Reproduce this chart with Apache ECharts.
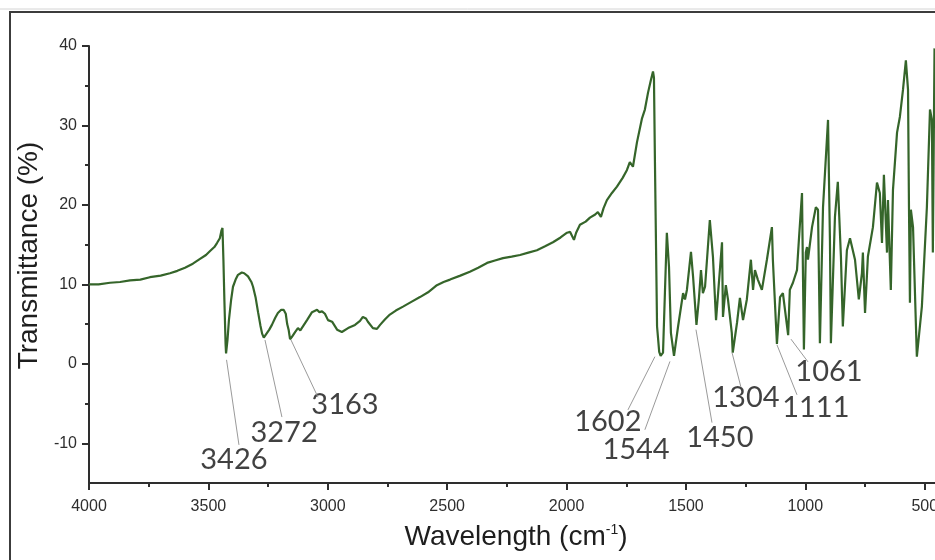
<!DOCTYPE html>
<html>
<head>
<meta charset="utf-8">
<title>FTIR spectrum</title>
<script src="https://cdn.jsdelivr.net/npm/echarts@6/dist/echarts.min.js"></script>
<style>
  html, body { margin: 0; padding: 0; background: #fff; }
  #main { width: 935px; height: 560px; }
</style>
</head>
<body>
<div id="main"></div>
<script>
// spectrum (wavenumber in cm-1, transmittance in %)
var wavenumber = [
    4000, 3960, 3912, 3870, 3828, 3785, 3745, 3700, 3661, 3630, 3598, 3565, 3535, 3510, 3493, 3475, 3464, 3452, 3445, 3441,
    3437, 3433, 3428, 3426, 3420, 3414, 3405, 3397, 3386, 3376, 3360, 3350, 3334, 3320, 3313, 3302, 3292, 3282, 3275, 3268,
    3260, 3245, 3234, 3220, 3209, 3195, 3185, 3176, 3170, 3164, 3158, 3150, 3137, 3125, 3115, 3108, 3087, 3066, 3045, 3035,
    3024, 3012, 2999, 2982, 2961, 2941, 2915, 2886, 2865, 2853, 2840, 2832, 2811, 2794, 2781, 2760, 2740, 2715, 2685, 2650,
    2614, 2580, 2543, 2515, 2488, 2445, 2405, 2370, 2333, 2300, 2266, 2230, 2195, 2160, 2124, 2090, 2057, 2025, 1998, 1985,
    1977, 1969, 1960, 1944, 1920, 1902, 1880, 1869, 1856, 1845, 1831, 1810, 1789, 1765, 1747, 1735, 1722, 1705, 1684, 1672,
    1659, 1647, 1638, 1634, 1630, 1621, 1612, 1606, 1596, 1588, 1580, 1571, 1563, 1550, 1545, 1533, 1512, 1504, 1496, 1479,
    1470, 1456, 1446, 1437, 1429, 1420, 1400, 1387, 1374, 1366, 1349, 1345, 1333, 1324, 1308, 1304, 1286, 1274, 1261, 1245,
    1228, 1219, 1211, 1199, 1182, 1161, 1140, 1136, 1119, 1106, 1094, 1072, 1065, 1052, 1035, 1027, 1014, 1010, 1006, 998,
    993, 989, 972, 956, 947, 939, 926, 905, 897, 893, 876, 864, 851, 843, 826, 813, 792, 776, 763, 759,
    750, 738, 717, 700, 688, 679, 671, 658, 654, 642, 633, 616, 604, 591, 579, 570, 566, 562, 558, 549,
    533, 512, 491, 478, 470, 466, 459
];
var transmittance = [
    10.0, 10.0, 10.2, 10.3, 10.5, 10.6, 10.9, 11.1, 11.4, 11.7, 12.1, 12.6, 13.2, 13.7, 14.2, 14.7, 15.2, 15.8, 16.8, 17.1,
    13.0, 8.0, 2.5, 1.3, 3.0, 5.5, 8.0, 9.7, 10.6, 11.2, 11.5, 11.4, 11.0, 10.3, 9.7, 8.3, 6.5, 4.8, 3.8, 3.3,
    3.5, 4.3, 4.9, 5.8, 6.4, 6.8, 6.8, 6.3, 5.0, 4.3, 3.1, 3.4, 4.0, 4.5, 4.2, 4.3, 5.5, 6.5, 6.8, 6.5,
    6.6, 6.3, 5.5, 5.3, 4.3, 4.0, 4.5, 4.9, 5.4, 5.9, 5.7, 5.3, 4.5, 4.4, 4.9, 5.6, 6.2, 6.7, 7.2, 7.8,
    8.4, 9.0, 9.9, 10.3, 10.6, 11.1, 11.6, 12.1, 12.7, 13.0, 13.3, 13.5, 13.7, 14.0, 14.3, 14.8, 15.3, 15.9, 16.5, 16.6,
    16.6, 15.6, 16.5, 17.5, 17.9, 18.4, 18.8, 19.1, 18.5, 19.6, 20.6, 21.5, 22.3, 23.4, 24.4, 25.4, 24.8, 27.9, 30.9, 32.0,
    34.1, 35.7, 36.8, 36.0, 25.7, 4.7, 1.5, 1.0, 1.4, 9.0, 16.5, 12.2, 3.9, 1.0, 1.2, 4.7, 8.9, 8.1, 9.3, 14.1,
    10.9, 4.9, 8.1, 11.8, 8.9, 9.7, 18.1, 13.5, 5.5, 5.3, 15.3, 5.9, 9.9, 8.1, 3.9, 1.4, 5.2, 8.3, 5.5, 8.1,
    13.1, 9.3, 11.8, 10.6, 9.3, 13.1, 17.2, 13.1, 2.5, 8.4, 8.9, 3.6, 9.3, 10.2, 11.8, 15.6, 21.5, 11.4, 1.8, 14.0,
    14.7, 13.1, 17.2, 19.7, 19.4, 2.6, 19.7, 30.7, 15.6, 2.6, 18.5, 22.9, 13.5, 4.7, 14.3, 15.8, 13.1, 8.1, 11.4, 14.0,
    6.4, 13.5, 17.2, 22.8, 21.5, 15.2, 23.8, 14.0, 20.6, 9.3, 21.9, 29.1, 31.1, 34.5, 38.2, 34.5, 19.7, 7.7, 19.4, 17.2,
    0.9, 7.2, 19.7, 32.0, 30.7, 14.0, 39.7
];

// peak annotations
var peakLabels = ['3426', '3272', '3163', '1602', '1544', '1450', '1304', '1111', '1061'];
var labelWn = [3393, 3183, 2928, 1827, 1709, 1358, 1249, 956, 901];
var labelT = [-12.1, -8.6, -5.2, -7.3, -10.8, -9.3, -4.3, -5.5, -1.0];
var leaderFromWn = [3424, 3263, 3154, 1630, 1567, 1458, 1307, 1119, 1060];
var leaderFromT = [0.5, 3.0, 3.0, 0.9, 0.3, 4.3, 1.4, 2.4, 3.1];
var leaderToWn = [3372, 3192, 3041, 1743, 1672, 1391, 1270, 1035, 989];
var leaderToT = [-10.2, -6.7, -4.2, -5.8, -8.3, -7.4, -2.9, -3.9, 0.25];

// ticks
var xMajorTicks = [4000, 3500, 3000, 2500, 2000, 1500, 1000, 500];
var xMinorTicks = [3750, 3250, 2750, 2250, 1750, 1250, 750];
var yMajorTicks = [-10, 0, 10, 20, 30, 40];
var yMinorTicks = [-5, 5, 15, 25, 35];

var xMin = 457, xMax = 4000, yMin = -15, yMax = 40;
var axisColor = '#2e2e2e';
var sansFont = 'Liberation Sans';

var chart = echarts.init(document.getElementById('main'));

var lineData = wavenumber.map(function(w, i) {
    return [w, transmittance[i]];
});
var labelData = peakLabels.map(function(txt, i) {
    return [labelWn[i], labelT[i], txt];
});
var leaderData = peakLabels.map(function(txt, i) {
    return [
        { coord: [leaderFromWn[i], leaderFromT[i]] },
        { coord: [leaderToWn[i], leaderToT[i]] }
    ];
});
var plainNumber = function(v) { return String(v); };

var option = {
    animation: false,
    backgroundColor: '#fff',
    grid: { left: 89, top: 46, right: 0, bottom: 77, containLabel: false, outerBoundsMode: 'none' },
    graphic: [{
        type: 'line',
        silent: true,
        shape: { x1: 0, y1: 9, x2: 935, y2: 9 },
        style: { stroke: '#d4d4d4', lineWidth: 1 }
    }, {
        type: 'rect',
        silent: true,
        shape: { x: 10, y: 12, width: 1000, height: 700 },
        style: { fill: 'none', stroke: '#3c3c3c', lineWidth: 2 }
    }],
    xAxis: [{
        type: 'value',
        position: 'bottom',
        min: xMin,
        max: xMax,
        inverse: true,
        name: 'Wavelength (cm{sup|-1})',
        nameLocation: 'middle',
        nameGap: 40,
        nameTextStyle: {
            fontFamily: sansFont,
            fontSize: 28,
            color: '#1e1e1e',
            padding: [0, 0, 0, 8],
            rich: {
                sup: { fontFamily: sansFont, fontSize: 14, color: '#1e1e1e', verticalAlign: 'top' }
            }
        },
        axisLine: { show: true, onZero: false, lineStyle: { color: axisColor, width: 2 } },
        axisTick: { show: true, length: 7, customValues: xMajorTicks, lineStyle: { color: axisColor, width: 2 } },
        axisLabel: { customValues: xMajorTicks, formatter: plainNumber, margin: 16, fontFamily: sansFont, fontSize: 16, color: axisColor },
        splitLine: { show: false }
    }, {
        type: 'value',
        position: 'bottom',
        min: xMin,
        max: xMax,
        inverse: true,
        axisLine: { show: false, onZero: false },
        axisTick: { show: true, length: 4, customValues: xMinorTicks, lineStyle: { color: axisColor, width: 2 } },
        axisLabel: { show: false },
        splitLine: { show: false }
    }],
    yAxis: [{
        type: 'value',
        position: 'left',
        min: yMin,
        max: yMax,
        name: 'Transmittance (%)',
        nameLocation: 'middle',
        nameRotate: 90,
        nameGap: 40,
        nameTextStyle: { fontFamily: sansFont, fontSize: 28, color: '#1e1e1e', padding: [0, 0, 0, 18] },
        axisLine: { show: true, onZero: false, lineStyle: { color: axisColor, width: 2 } },
        axisTick: { show: true, length: 7, customValues: yMajorTicks, lineStyle: { color: axisColor, width: 2 } },
        axisLabel: { customValues: yMajorTicks, formatter: plainNumber, margin: 12, fontFamily: sansFont, fontSize: 16, color: axisColor },
        splitLine: { show: false }
    }, {
        type: 'value',
        position: 'left',
        min: yMin,
        max: yMax,
        axisLine: { show: false, onZero: false },
        axisTick: { show: true, length: 4, customValues: yMinorTicks, lineStyle: { color: axisColor, width: 2 } },
        axisLabel: { show: false },
        splitLine: { show: false }
    }],
    series: [{
        name: 'spectrum',
        type: 'line',
        xAxisIndex: 0,
        yAxisIndex: 0,
        data: lineData,
        showSymbol: false,
        lineStyle: { color: '#35652a', width: 2.2 },
        z: 3
    }, {
        name: 'peaks',
        type: 'scatter',
        xAxisIndex: 0,
        yAxisIndex: 0,
        data: labelData,
        symbolSize: 1,
        itemStyle: { color: 'rgba(0,0,0,0)' },
        label: {
            show: true,
            position: 'inside',
            formatter: function(p) { return p.data[2]; },
            fontFamily: 'Lato',
            fontSize: 29,
            color: '#111'
        },
        markLine: {
            silent: true,
            symbol: 'none',
            label: { show: false },
            lineStyle: { color: '#9a9a9a', width: 1, type: 'solid' },
            data: leaderData
        },
        z: 2
    }]
};

chart.setOption(option);
</script>
</body>
</html>
